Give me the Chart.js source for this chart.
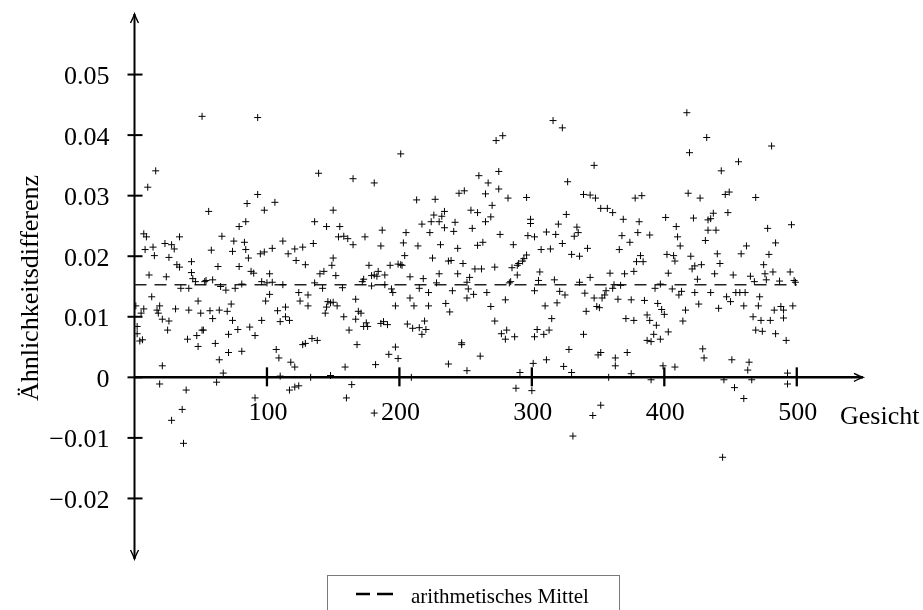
<!DOCTYPE html>
<html>
<head>
<meta charset="utf-8">
<script src="https://cdn.jsdelivr.net/npm/chart.js@4.4.1/dist/chart.umd.min.js"></script>
<style>
  html, body { margin: 0; padding: 0; background: #fff; }
  #wrap { width: 923px; height: 610px; }
</style>
</head>
<body>
<div id="wrap"><canvas id="chart" width="923" height="610"></canvas></div>
<script>
// Gesicht (x) und Ähnlichkeitsdifferenz (y)
const gesicht = [
  1,2,2,4,5,6,7,7,8,9,10,11,13,14,15,16,17,18,19,19,21,21,23,24,25,26,26,28,28,30,31,32,34,34,35,36,37,39,40,41,41,43,43,44,46,47,48,48,
  50,51,51,52,53,54,56,57,58,59,59,61,62,63,64,64,65,66,67,69,70,71,71,73,74,74,75,76,78,79,79,81,81,83,84,84,85,86,87,88,90,91,91,93,93,95,96,96,98,98,99,
  100,102,102,104,104,106,107,108,109,110,110,112,112,114,114,116,117,117,118,121,121,121,122,124,124,125,127,127,129,129,131,131,133,134,135,136,136,138,139,140,142,143,144,145,145,146,148,148,149,150,150,
  150,152,153,154,155,157,158,158,159,160,161,162,164,165,165,167,167,168,169,171,172,173,173,174,175,176,177,179,179,181,181,181,182,183,184,186,186,187,188,189,189,191,192,193,194,195,197,197,199,199,201,201,
  202,203,204,205,206,208,208,209,210,211,213,214,215,215,217,217,218,219,220,222,222,223,224,225,226,227,228,230,230,231,232,234,234,235,237,237,238,239,240,241,242,244,244,245,247,247,248,249,251,251,251,
  252,253,254,255,256,257,259,259,260,261,262,263,265,265,266,267,269,269,270,272,272,273,275,275,276,277,278,280,280,281,282,283,284,285,286,287,288,289,289,290,291,293,294,296,296,297,299,299,300,301,302,302,302,
  304,305,306,307,309,310,311,311,313,314,315,316,317,318,319,320,321,323,323,324,325,326,327,328,330,330,331,332,334,335,336,336,339,339,340,341,342,344,344,346,347,347,348,349,350,351,352,352,352,
  353,355,356,357,358,359,361,361,362,363,363,365,366,367,368,369,370,371,372,374,375,375,377,377,378,379,380,381,382,383,384,385,387,387,389,389,390,390,392,393,394,395,397,397,398,399,400,401,402,403,403,
  406,407,408,408,409,410,411,412,413,414,416,417,418,419,420,421,422,423,423,425,426,427,428,429,430,431,432,433,433,435,435,437,438,439,440,441,442,443,444,445,446,447,448,449,450,451,452,453,454,
  456,457,458,460,460,461,462,463,464,465,466,467,468,469,469,471,472,473,474,475,476,477,478,479,480,481,482,483,484,484,487,488,490,490,492,493,493,495,496,497,498,499
];
const differenz = [
  .0118,.0084,.0072,.0060,.0106,.0062,.0113,.0237,.0211,.0232,.0314,.0169,.0133,.0215,.0201,.0341,.0111,.0106,.0118,-.0011,.0096,.0019,.0221,.0166,.0078,.0093,.0198,.0219,-.0071,.0212,.0113,.0186,.0232,.0182,.0147,-.0053,-.0109,-.0021,.0063,.0147,.0111,.0191,.0173,.0163,.0158,.0069,.0051,.0126,
  .0106,.0431,.0078,.0078,.0158,.0160,.0274,.0110,.0210,.0097,.0161,.0056,-.0008,.0183,.0029,.0111,.0150,.0233,.0007,.0144,.0109,.0041,.0071,.0121,.0094,.0208,.0225,.0147,.0079,.0249,.0183,.0154,.0043,.0223,.0211,.0257,.0287,.0197,.0083,.0175,.0172,.0069,-.0034,.0429,.0302,.0204,.0158,.0094,.0276,.0207,.0126,
  .0156,.0137,.0171,.0213,.0157,.0289,.0046,.0110,.0032,.0002,.0092,.0153,.0225,.0100,.0116,.0204,.0094,-.0021,.0025,.0212,.0017,-.0016,.0193,.0140,-.0014,.0126,.0215,.0054,.0186,.0056,.0136,.0118,.0000,.0064,.0221,.0257,.0156,.0061,.0337,.0171,.0147,.0175,.0106,.0116,.0249,.0125,.0123,.0003,.0185,.0276,.0197,
  .0124,.0168,.0118,.0232,.0249,.0148,.0233,.0100,.0017,-.0034,.0229,.0078,-.0012,.0328,.0219,.0129,.0096,.0054,.0109,.0106,.0158,.0162,.0084,.0232,.0090,.0084,.0185,.0168,.0151,.0169,-.0059,.0321,.0021,.0167,.0175,.0217,.0089,.0243,.0092,.0169,.0153,.0087,.0038,.0185,.0146,.0140,.0050,.0118,.0187,.0031,.0369,.0186,
  .0185,.0222,.0201,.0239,.0088,.0131,.0166,.0000,.0081,.0118,.0293,.0217,.0147,.0082,.0071,.0253,.0163,.0093,.0079,.0118,.0140,.0239,.0257,.0197,.0268,.0294,.0156,.0257,.0171,.0219,.0266,.0247,.0274,.0122,.0192,.0022,.0108,.0193,.0143,.0241,.0256,.0171,.0213,.0304,.0057,.0054,.0188,.0308,.0157,.0131,.0011,
  .0146,.0165,.0276,.0246,.0137,.0179,.0272,.0218,.0333,.0035,.0179,.0223,.0257,.0303,.0140,.0321,.0265,.0117,.0284,.0093,.0182,.0391,.0340,.0311,.0236,.0072,.0399,.0128,.0063,.0078,.0296,.0156,.0158,.0181,.0219,.0067,-.0018,.0169,.0185,.0188,.0008,.0192,.0196,.0297,.0202,.0234,.0254,.0261,-.0022,.0023,.0232,.0143,.0067,
  .0079,.0160,.0174,.0211,.0071,.0118,.0029,.0240,.0078,.0212,.0097,.0424,.0161,.0236,.0123,.0253,.0142,.0412,.0221,.0018,.0136,.0269,.0323,.0046,.0203,.0008,-.0097,.0233,.0248,.0239,.0200,.0157,.0302,.0071,.0139,.0109,.0213,.0165,.0301,-.0063,.0350,.0131,.0296,.0117,.0037,.0115,.0279,.0041,-.0046,
  .0131,.0136,.0143,.0279,.0000,.0172,.0272,.0147,.0153,.0019,.0032,.0129,.0211,.0152,.0234,.0261,.0171,.0097,.0041,.0223,.0006,.0128,.0175,.0094,.0296,.0191,.0239,.0257,.0201,.0300,.0191,.0127,.0103,.0061,.0094,.0235,-.0004,.0059,.0071,.0147,.0086,.0122,.0154,.0063,.0112,.0019,.0104,.0264,.0203,.0172,.0075,
  .0146,.0201,.0192,.0017,.0249,.0232,.0136,.0217,.0142,.0093,.0111,.0437,.0304,.0371,.0200,.0179,.0263,.0184,.0140,.0162,.0121,.0296,.0186,.0047,.0032,.0226,.0396,.0260,.0243,.0262,.0140,.0271,.0171,.0243,.0204,.0114,.0188,.0341,-.0132,-.0004,.0302,.0133,.0272,.0306,.0125,.0029,.0169,-.0017,.0140,
  .0356,.0140,.0204,.0118,-.0035,.0140,.0217,.0012,.0025,.0167,-.0004,.0100,.0158,.0078,.0297,.0118,.0133,.0094,.0076,.0186,.0171,.0161,.0246,.0203,.0094,.0382,.0174,.0111,.0222,.0072,.0159,.0117,.0111,.0098,.0061,.0007,-.0011,.0174,.0252,.0118,.0160,.0157
];
const mittelwert = 0.0153;
const mittelBereich = [0, 500];

const xTicks = [100, 200, 300, 400, 500];
const xTickLabels = ['100', '200', '300', '400', '500'];
const yTicks = [-0.02, -0.01, 0, 0.01, 0.02, 0.03, 0.04, 0.05];
const yTickLabels = ['\u22120.02', '\u22120.01', '0', '0.01', '0.02', '0.03', '0.04', '0.05'];

const serif = '"Liberation Serif", "DejaVu Serif", serif';

function strich(ctx, x1, y1, x2, y2) {
    ctx.beginPath();
    ctx.moveTo(x1, y1);
    ctx.lineTo(x2, y2);
    ctx.stroke();
}

// kleine Pfeilspitze im LaTeX-Stil
function pfeil(ctx, tx, ty, dx, dy) {
    const px = -dy, py = dx;
    ctx.save();
    ctx.lineWidth = 1.4;
    ctx.beginPath();
    ctx.moveTo(tx - dx * 9 + px * 4, ty - dy * 9 + py * 4);
    ctx.quadraticCurveTo(tx - dx * 3 + px * 1, ty - dy * 3 + py * 1, tx, ty);
    ctx.quadraticCurveTo(tx - dx * 3 - px * 1, ty - dy * 3 - py * 1, tx - dx * 9 - px * 4, ty - dy * 9 - py * 4);
    ctx.stroke();
    ctx.restore();
}

const achsenPlugin = {
    id: 'achsen',
    beforeDatasetsDraw(chart) {
        const ctx = chart.ctx;
        const xs = chart.scales.x, ys = chart.scales.y;
        const x0 = xs.getPixelForValue(0), y0 = ys.getPixelForValue(0);
        const yTop = ys.getPixelForValue(ys.max), yBot = ys.getPixelForValue(ys.min);
        const xEnd = xs.getPixelForValue(xs.max);
        ctx.save();
        ctx.strokeStyle = '#000';
        ctx.fillStyle = '#000';

        // Achsen
        ctx.lineWidth = 2;
        strich(ctx, x0, yBot, x0, yTop);
        ctx.lineWidth = 2.5;
        strich(ctx, x0, y0, xEnd, y0);
        ctx.lineWidth = 2;
        pfeil(ctx, x0, yTop, 0, -1);
        pfeil(ctx, x0, yBot, 0, 1);
        pfeil(ctx, xEnd, y0, 1, 0);

        // Striche
        ctx.lineWidth = 2;
        yTicks.forEach(v => {
            const py = ys.getPixelForValue(v);
            strich(ctx, x0 - 7, py, x0 + 8, py);
        });
        ctx.lineWidth = 2.3;
        xTicks.forEach(v => {
            const px = xs.getPixelForValue(v);
            strich(ctx, px, y0 - 10, px, y0 + 9);
        });

        // Beschriftungen
        ctx.font = '26px ' + serif;
        ctx.textBaseline = 'alphabetic';
        ctx.textAlign = 'right';
        yTicks.forEach((v, i) => {
            ctx.fillText(yTickLabels[i], x0 - 25, ys.getPixelForValue(v) + 9.5);
        });
        ctx.textAlign = 'center';
        xTicks.forEach((v, i) => {
            ctx.fillText(xTickLabels[i], xs.getPixelForValue(v) + 1, y0 + 42.5);
        });
        ctx.textAlign = 'left';
        ctx.fillText('Gesicht', 840, y0 + 47);

        ctx.save();
        ctx.translate(38, 288);
        ctx.rotate(-Math.PI / 2);
        ctx.textAlign = 'center';
        ctx.fillText('Ähnlichkeitsdifferenz', 0, 0);
        ctx.restore();

        ctx.restore();
    },
    afterDraw(chart) {
        // Legende unten
        const ctx = chart.ctx;
        const ds = chart.data.datasets[1];
        ctx.save();
        ctx.strokeStyle = '#7a7a7a';
        ctx.lineWidth = 1;
        ctx.strokeRect(327.5, 575.5, 292, 45);
        ctx.strokeStyle = '#000';
        ctx.lineWidth = 2.5;
        strich(ctx, 356, 594, 370, 594);
        strich(ctx, 377, 594, 393, 594);
        ctx.fillStyle = '#000';
        ctx.font = '21px ' + serif;
        ctx.textAlign = 'left';
        ctx.textBaseline = 'alphabetic';
        ctx.fillText(ds.label, 411, 603);
        ctx.restore();
    }
};

const ctx = document.getElementById('chart').getContext('2d');
const chart = new Chart(ctx, {
    type: 'scatter',
    data: {
        datasets: [
            {
                label: 'Ähnlichkeitsdifferenz',
                data: gesicht.map((g, i) => ({ x: g, y: differenz[i] })),
                pointStyle: 'cross',
                pointRadius: 3.5,
                borderColor: '#000',
                backgroundColor: '#000',
                borderWidth: 1
            },
            {
                type: 'line',
                label: 'arithmetisches Mittel',
                data: mittelBereich.map(g => ({ x: g, y: mittelwert })),
                borderColor: '#222',
                borderWidth: 1.4,
                borderDash: [12, 8],
                pointRadius: 0,
                fill: false
            }
        ]
    },
    options: {
        responsive: false,
        animation: false,
        devicePixelRatio: 1,
        layout: { padding: { left: 134.5, right: 60, top: 14, bottom: 51 } },
        scales: {
            x: { type: 'linear', min: 0, max: 550, display: false },
            y: { type: 'linear', min: -0.03, max: 0.06, display: false }
        },
        plugins: {
            legend: { display: false },
            tooltip: { enabled: false }
        }
    },
    plugins: [achsenPlugin]
});
</script>
</body>
</html>
